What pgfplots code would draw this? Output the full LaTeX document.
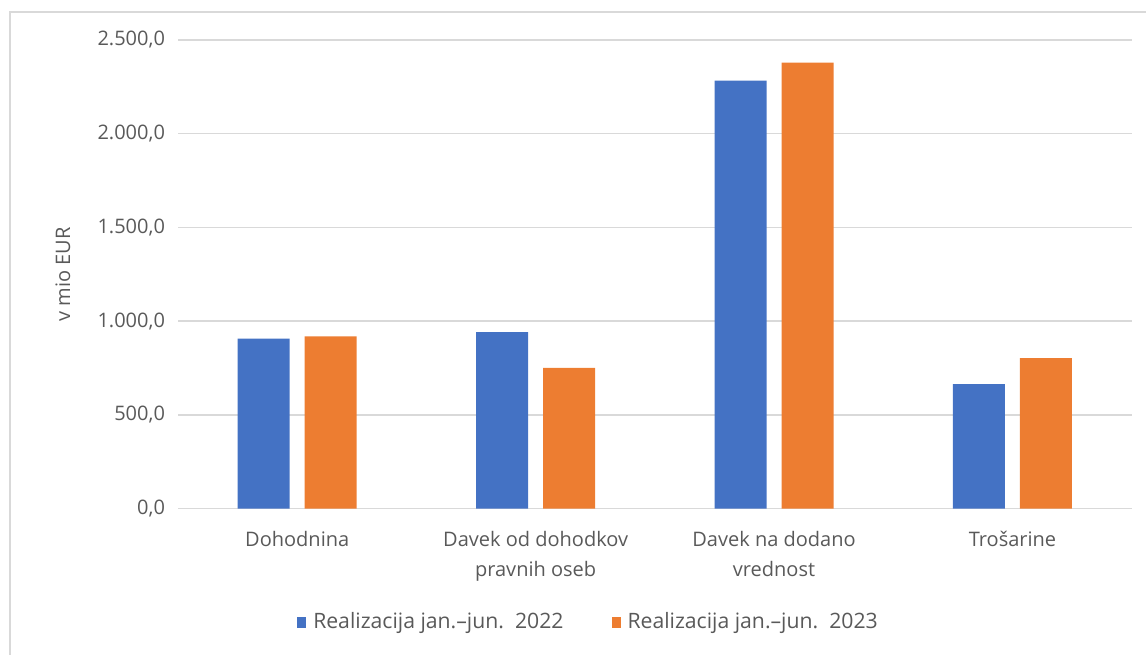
\documentclass[border=0pt]{standalone}
\usepackage{fontspec}
\setmainfont{Open Sans}
\usepackage{pgfplots}
\pgfplotsset{compat=1.18}
\definecolor{cblue}{HTML}{4472C4}
\definecolor{corange}{HTML}{ED7D31}
\definecolor{cgrid}{HTML}{D9D9D9}
\definecolor{ctext}{HTML}{595959}
\begin{document}
\begin{tikzpicture}
\draw[cgrid, line width=0.6pt] (5pt,-20pt) rectangle (600pt,321pt);
\begin{axis}[
  at={(89pt,72.75pt)}, anchor=south west,
  scale only axis, width=476.85pt, height=234.25pt,
  ymin=0, ymax=2500, ytick={0,500,1000,1500,2000,2500},
  xmin=-0.5, xmax=3.5,
  xtick={0,1,2,3},
  xticklabels={Dohodnina, {Davek od dohodkov\\pravnih oseb}, {Davek na dodano\\vrednost}, Trošarine},
  xticklabel style={align=center, font=\fontsize{10}{15}\selectfont, text=ctext, yshift=-8pt},
  yticklabel style={font=\fontsize{10}{12}\selectfont, text=ctext, xshift=-3pt},
  /pgf/number format/.cd, fixed, fixed zerofill, precision=1, use comma, 1000 sep={.}, assume math mode=true,
  /pgfplots/.cd,
  axis line style={draw=none},
  major tick length=0pt,
  ymajorgrids, grid style={cgrid, line width=0.7pt},
  ybar=7.5pt, bar width=26pt,
  ylabel={v mio EUR},
  ylabel style={at={(axis description cs:-0.1206,0.5)}, anchor=center, font=\fontsize{10}{12}\selectfont, text=ctext},
  legend style={at={(axis description cs:0.4315,-0.2423)}, anchor=center, draw=none, fill=none,
    legend columns=2, font=\fontsize{10.6}{12}\selectfont, text=ctext,
    /tikz/every even column/.append style={column sep=22pt},
    /tikz/every odd column/.append style={column sep=1.5pt}},
  legend image code/.code={\fill[#1] (0pt,-2.75pt) rectangle (4.5pt,2.75pt);},
]
\addplot[fill=cblue, draw=none] coordinates {(0,907) (1,941) (2,2283) (3,664)};
\addplot[fill=corange, draw=none] coordinates {(0,918) (1,750) (2,2379) (3,802)};
\legend{Realizacija jan.–jun.\ \ 2022, Realizacija jan.–jun.\ \ 2023}
\end{axis}
\pgfresetboundingbox
\useasboundingbox (0,0) rectangle (573pt,327pt);
\end{tikzpicture}
\end{document}
